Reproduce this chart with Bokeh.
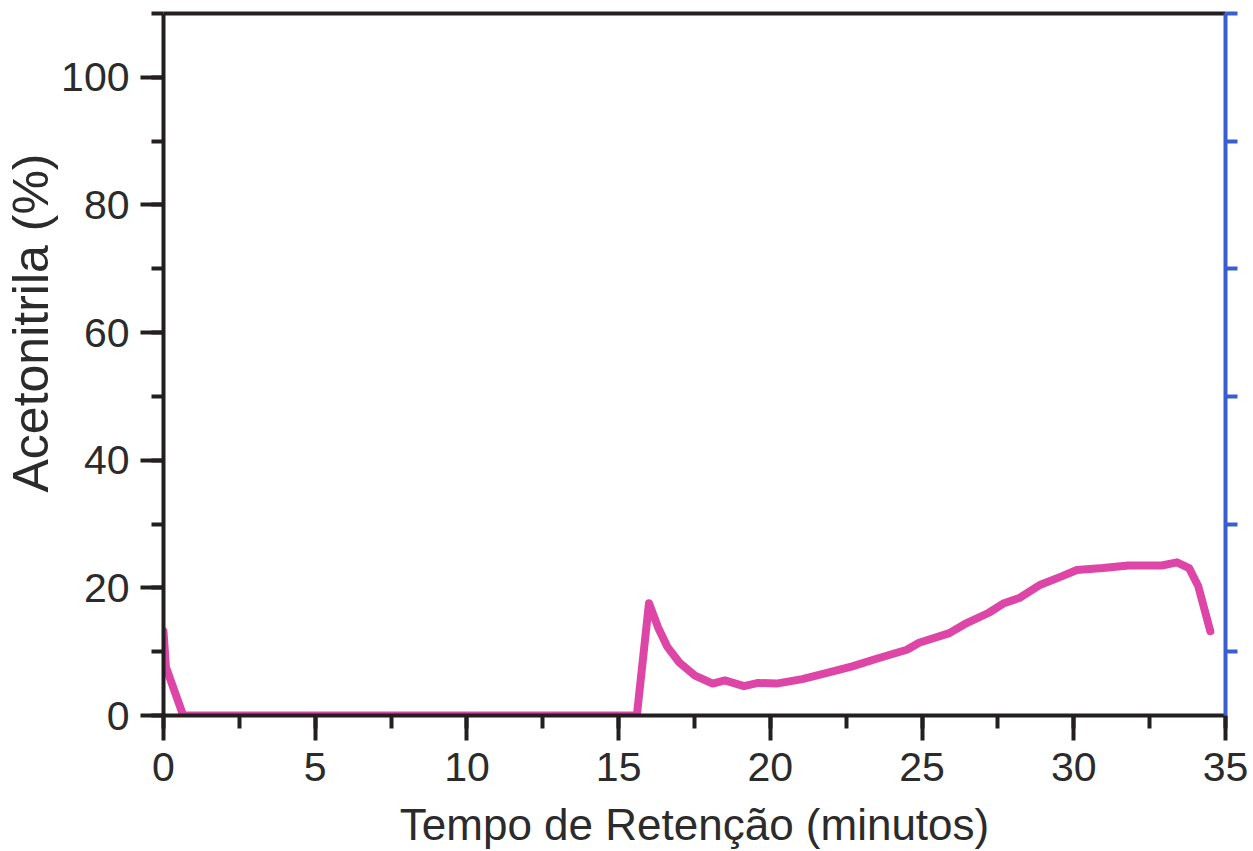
from bokeh.plotting import figure
from bokeh.models import Range1d, LinearAxis, SingleIntervalTicker, FixedTicker, Title
from bokeh.embed import file_html
from bokeh.resources import INLINE

# data
time_min = [0, 0.08, 0.65, 15.6, 16.0, 16.3, 16.6, 17.0, 17.5, 18.1, 18.5, 19.13, 19.6,
            20.2, 21.05, 21.9, 22.7, 23.5, 24.5, 24.9, 25.9, 26.4, 27.2, 27.7, 28.2,
            28.9, 29.6, 30.1, 30.96, 31.8, 32.9, 33.4, 33.8, 34.1, 34.5]
acetonitrile = [13.2, 7.6, 0, 0, 17.6, 13.8, 10.8, 8.3, 6.3, 5.0, 5.5, 4.6, 5.1,
                5.0, 5.7, 6.7, 7.7, 8.9, 10.3, 11.4, 12.9, 14.3, 16.1, 17.6, 18.4,
                20.5, 21.8, 22.8, 23.1, 23.5, 23.5, 24.0, 23.1, 20.3, 13.2]
x_label = "Tempo de Retenção (minutos)"
y_label = "Acetonitrila (%)"
right_ticks = [10, 30, 50, 70, 90, 110]

FONT = "Liberation Sans"
TXT = "#2b2b2b"
AX = "#231f20"

p = figure(width=1253, height=851, output_backend="svg", toolbar_location=None,
           x_range=Range1d(0, 35), y_range=Range1d(0, 110),
           min_border_left=163, min_border_right=28, min_border_top=13,
           min_border_bottom=136, background_fill_color="white",
           border_fill_color="white", outline_line_color=None)
p.grid.visible = False

p.line(time_min, acetonitrile, line_color="#DD46A6", line_width=8,
       line_join="round", line_cap="round")

xa = p.xaxis[0]
xa.ticker = SingleIntervalTicker(interval=5, num_minor_ticks=2)
ya = p.yaxis[0]
ya.ticker = SingleIntervalTicker(interval=20, num_minor_ticks=2)
for ax in (xa, ya):
    ax.axis_label_text_font = FONT
    ax.axis_label_text_font_style = "normal"
    ax.axis_label_text_color = TXT
    ax.major_label_text_font = FONT
    ax.major_label_text_font_size = "41px"
    ax.major_label_text_color = TXT
    ax.axis_line_width = 4
    ax.axis_line_color = AX
    ax.major_tick_line_width = 4
    ax.minor_tick_line_width = 4
    ax.major_tick_line_color = AX
    ax.minor_tick_line_color = AX
    ax.major_tick_in = 0
    ax.minor_tick_in = 0
    ax.major_label_standoff = 12
xa.axis_label = x_label
xa.axis_label_text_font_size = "44px"
xa.axis_label_standoff = 16
xa.major_tick_out = 25
xa.minor_tick_out = 13
ya.major_tick_out = 23
ya.minor_tick_out = 12
ya.major_label_standoff = 11

ytitle = Title(text=y_label, align="right", offset=140, standoff=0,
               text_font=FONT, text_font_size="50px", text_font_style="normal",
               text_color=TXT)
p.add_layout(ytitle, "left")

right = LinearAxis(ticker=FixedTicker(ticks=right_ticks),
                   major_label_overrides={t: "" for t in right_ticks})
right.axis_line_color = "#3a5fcd"
right.axis_line_width = 4
right.major_tick_line_color = "#3a5fcd"
right.major_tick_line_width = 4
right.major_tick_out = 12
right.major_tick_in = 0
right.minor_tick_out = 0
right.minor_tick_in = 0
right.major_label_standoff = 0
right.major_label_text_font_size = "1px"
p.add_layout(right, "right")

top = LinearAxis(ticker=FixedTicker(ticks=[]))
top.axis_line_color = AX
top.axis_line_width = 4
top.major_tick_out = 0
top.major_tick_in = 0
top.minor_tick_out = 0
top.minor_tick_in = 0
top.major_label_standoff = 0
top.major_label_text_font_size = "1px"
p.add_layout(top, "above")

open("out.html", "w").write(file_html(p, INLINE))
